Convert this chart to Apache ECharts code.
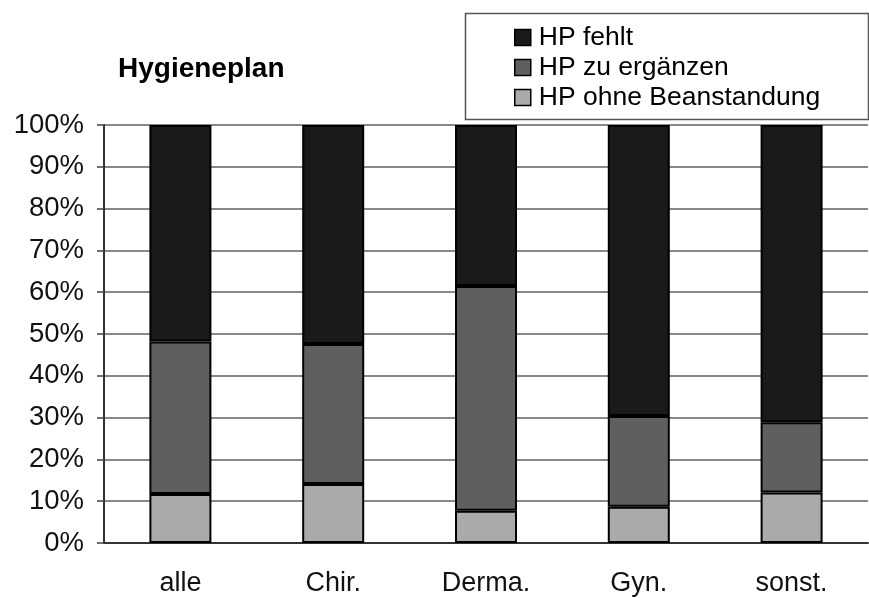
<!DOCTYPE html>
<html>
<head>
<meta charset="utf-8">
<script src="https://cdn.jsdelivr.net/npm/echarts@6/dist/echarts.min.js"></script>
<style>html,body{margin:0;padding:0;background:#fff}#c{width:869px;height:598px}</style>
</head>
<body>
<div id="c"></div>
<script>
var categories = ['alle', 'Chir.', 'Derma.', 'Gyn.', 'sonst.'];
var ohneBeanstandung = [11.7, 14.1, 7.7, 8.7, 12.1];
var zuErgaenzen = [36.5, 33.5, 53.8, 21.7, 16.8];
var fehlt = [51.8, 52.4, 38.5, 69.6, 71.1];
var seriesNames = ['HP fehlt', 'HP zu ergänzen', 'HP ohne Beanstandung'];
var titleText = 'Hygieneplan';

var FONT = 'Liberation Sans, Arial, sans-serif';
var chart = echarts.init(document.getElementById('c'));
function barSeries(name, data, color) {
  return {
    name: name, type: 'bar', stack: 'all', data: data, barWidth: 62,
    itemStyle: { color: color, borderColor: '#000', borderWidth: 2 },
    emphasis: { disabled: true }, animation: false
  };
}
chart.setOption({
  animation: false,
  backgroundColor: '#fff',
  title: {
    text: titleText, left: 113, top: 50, padding: [5, 5, 5, 5],
    textStyle: { fontFamily: FONT, fontSize: 28, fontWeight: 'bold', color: '#000' }
  },
  graphic: [{
    type: 'rect', left: 463, top: 11,
    shape: { width: 403, height: 106 },
    style: { fill: 'none', stroke: '#555', lineWidth: 1.5 }, z: 0
  }],
  legend: {
    orient: 'vertical', left: 514, top: 24, padding: 0,
    data: seriesNames, itemWidth: 16, itemHeight: 16, itemGap: 3,
    icon: 'rect',
    textStyle: { fontFamily: FONT, fontSize: 26.5, color: '#000', padding: [0, 0, 0, 3] },
    itemStyle: { borderColor: '#000', borderWidth: 1.5 },
    selectedMode: false
  },
  grid: { left: 104, right: 1, top: 125, bottom: 55 },
  xAxis: {
    type: 'category', data: categories,
    axisLine: { lineStyle: { color: '#333', width: 2 } },
    axisTick: { length: 9, lineStyle: { color: '#444', width: 1.5 } },
    axisLabel: { fontFamily: FONT, fontSize: 27, color: '#111', margin: 27 }
  },
  yAxis: {
    type: 'value', min: 0, max: 100, interval: 10,
    axisLine: { show: true, lineStyle: { color: '#333', width: 2 } },
    axisTick: { show: true, length: 7, lineStyle: { color: '#444', width: 1.5 } },
    axisLabel: { fontFamily: FONT, fontSize: 27.5, color: '#111', margin: 20, formatter: '{value}%' },
    splitLine: { lineStyle: { color: '#888', width: 2 } }
  },
  series: [
    barSeries(seriesNames[2], ohneBeanstandung, '#aaaaaa'),
    barSeries(seriesNames[1], zuErgaenzen, '#5f5f5f'),
    barSeries(seriesNames[0], fehlt, '#1a1a1a')
  ]
});
</script>
</body>
</html>
